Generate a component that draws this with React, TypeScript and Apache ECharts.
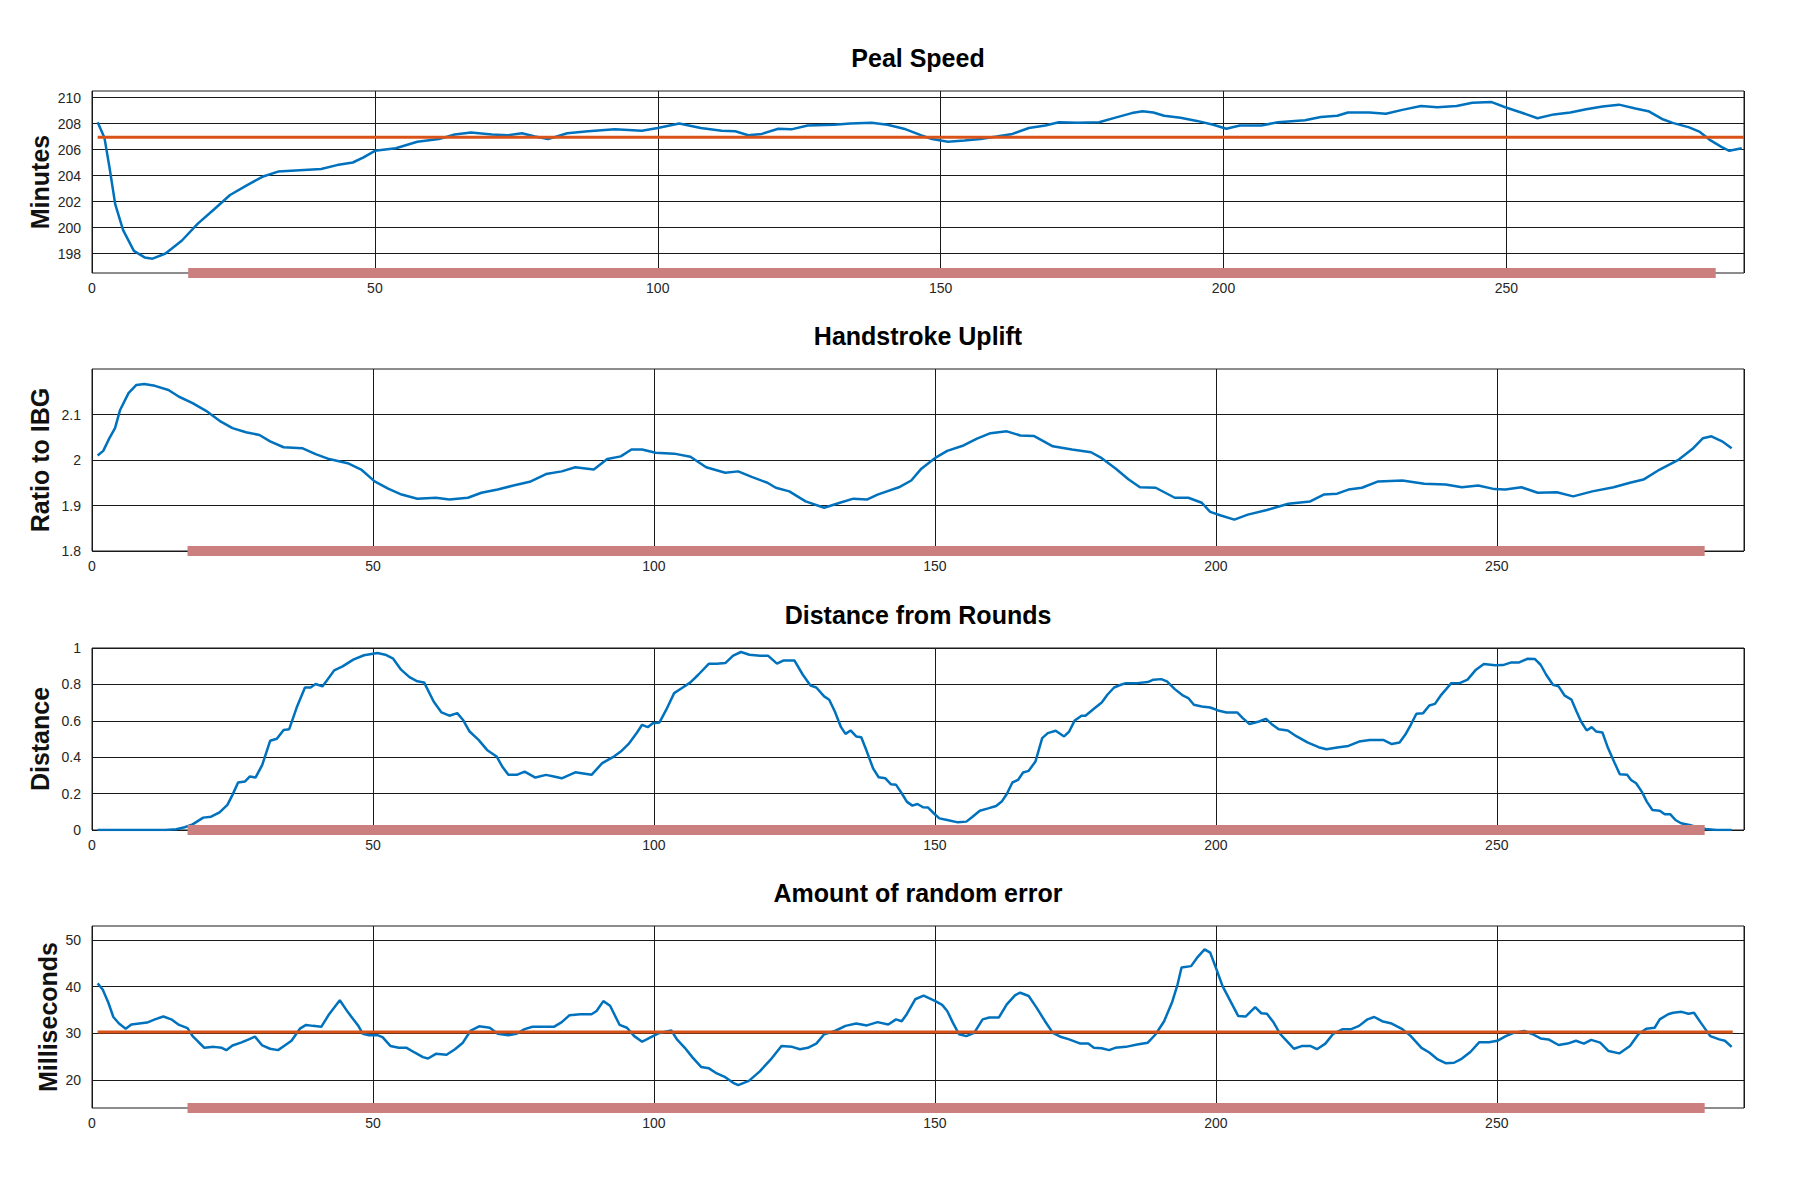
import React, { useEffect, useRef } from "react";
import * as echarts from "echarts";

// ---------- DATA ----------
const titles = ["Peal Speed", "Handstroke Uplift", "Distance from Rounds", "Amount of random error"];
const yNames = ["Minutes", "Ratio to IBG", "Distance", "Milliseconds"];

const xTicks = [0, 50, 100, 150, 200, 250];
const xMaxes = [292, 294, 294, 294];

const yTicksPeal = [198, 200, 202, 204, 206, 208, 210];
const yTicksUplift = [1.8, 1.9, 2, 2.1];
const yTicksDistance = [0, 0.2, 0.4, 0.6, 0.8, 1];
const yTicksError = [20, 30, 40, 50];

const yRangePeal = [196.5, 210.5];
const yRangeUplift = [1.8, 2.2];
const yRangeDistance = [0, 1];
const yRangeError = [14, 53];

const windowSpan = [17, 287];
const meanSpan = [1, 292];
const pealSpeedMean = 206.95;
const randomErrorMean = 30.3;

const pealSpeed: [number, number][] = [
  [1, 208.1], [2.2, 206.9], [3.1, 204.6], [4.1, 201.8], [5.5, 199.8], [7.4, 198.2], [9.3, 197.7], [10.7, 197.6],
  [13, 198.0], [15.9, 199.0], [18.7, 200.3], [21.6, 201.4], [24.4, 202.5], [27.2, 203.2], [30.1, 203.9], [32.9, 204.3],
  [36.7, 204.4], [40.5, 204.5], [43.3, 204.8], [46.1, 205.0], [48, 205.4], [50, 205.9], [53.7, 206.1], [57.5, 206.6],
  [61.3, 206.8], [64.1, 207.15], [67, 207.3], [70.7, 207.15], [73.5, 207.1], [76, 207.25], [78.3, 207.0], [80.6, 206.8],
  [84, 207.25], [87.7, 207.4], [92.4, 207.55], [97.2, 207.45], [100, 207.65], [103.8, 208.0], [107.6, 207.65], [111.3, 207.45],
  [113.7, 207.4], [116, 207.1], [118.4, 207.2], [121.3, 207.6], [123.6, 207.55], [126.5, 207.85], [131.2, 207.9], [134, 208.0],
  [137.8, 208.05], [140.6, 207.9], [143.5, 207.6], [146.5, 207.1], [148.5, 206.8], [151.3, 206.6], [154.2, 206.7], [157, 206.8],
  [159.9, 207.0], [162.7, 207.2], [165.6, 207.65], [168.5, 207.85], [170.9, 208.1], [174.2, 208.05], [178, 208.1], [180.9, 208.45],
  [183.8, 208.8], [185.7, 208.95], [187.6, 208.85], [189.5, 208.6], [192.4, 208.45], [195.3, 208.2], [198.2, 207.9], [200.5, 207.6],
  [202.9, 207.85], [206.7, 207.85], [209.6, 208.1], [214.4, 208.25], [217.2, 208.5], [220.1, 208.6], [222, 208.85], [225.8, 208.85],
  [228.7, 208.75], [231.6, 209.05], [234.9, 209.35], [237.8, 209.25], [241.2, 209.35], [244, 209.6], [247.4, 209.65], [249.8, 209.25],
  [252.6, 208.85], [255.5, 208.4], [258.4, 208.7], [261.3, 208.85], [264.1, 209.1], [267, 209.3], [269.9, 209.45], [272.8, 209.15],
  [275.1, 208.95], [277.5, 208.35], [279.4, 208.05], [282.3, 207.7], [284.2, 207.35], [286.1, 206.7], [288, 206.2], [289.4, 205.9],
  [291.6, 206.1],
];

const handstrokeUplift: [number, number][] = [
  [1, 2.010], [2, 2.020], [3.1, 2.048], [4.1, 2.070], [5, 2.110], [6.5, 2.147], [7.9, 2.165], [9.3, 2.167],
  [11.2, 2.163], [13.6, 2.154], [15.5, 2.139], [17.9, 2.125], [20.3, 2.108], [22.7, 2.086], [25, 2.070], [27.4, 2.061],
  [29.8, 2.055], [31.7, 2.041], [34.1, 2.028], [37.4, 2.026], [39.8, 2.013], [42.2, 2.002], [45.5, 1.993], [47.9, 1.979],
  [50.3, 1.953], [52.7, 1.937], [55.1, 1.924], [57.9, 1.915], [61.2, 1.917], [63.6, 1.913], [66.9, 1.917], [69.3, 1.928],
  [72.2, 1.935], [75, 1.944], [77.9, 1.952], [80.8, 1.969], [83.6, 1.975], [86, 1.984], [89.3, 1.979], [91.7, 2.002],
  [94.1, 2.008], [96, 2.023], [97.9, 2.023], [100.3, 2.016], [103.6, 2.014], [106.5, 2.007], [109.3, 1.984], [112.7, 1.972],
  [115, 1.975], [117.4, 1.963], [120.2, 1.950], [121.7, 1.939], [124.1, 1.931], [127, 1.909], [130.3, 1.895], [133.1, 1.906],
  [135.5, 1.915], [137.9, 1.913], [139.8, 1.924], [143.6, 1.940], [145.8, 1.955], [147.6, 1.981], [150, 2.004], [152.2, 2.020],
  [155.1, 2.032], [157.5, 2.047], [159.9, 2.059], [162.8, 2.063], [165.2, 2.054], [167.6, 2.053], [171, 2.030], [174.4, 2.023],
  [177.8, 2.017], [179.7, 2.004], [182.1, 1.982], [184.5, 1.957], [186.5, 1.940], [189.3, 1.939], [192.7, 1.917], [195.1, 1.917],
  [197.5, 1.906], [199, 1.886], [200.9, 1.878], [203.3, 1.869], [205.7, 1.880], [209.1, 1.890], [212.9, 1.904], [216.8, 1.909],
  [219.2, 1.924], [221.6, 1.926], [223.6, 1.935], [226, 1.939], [228.9, 1.953], [233.2, 1.955], [237.1, 1.948], [240.9, 1.946],
  [243.8, 1.940], [246.7, 1.944], [249.6, 1.936], [251.5, 1.935], [254.4, 1.940], [257.3, 1.928], [260.7, 1.929], [263.6, 1.920],
  [267, 1.931], [270.8, 1.940], [273.7, 1.950], [276.1, 1.957], [279, 1.979], [282.4, 2.001], [284.8, 2.024], [286.7, 2.048],
  [288.2, 2.052], [290.1, 2.041], [291.8, 2.026],
];

const distanceFromRounds: [number, number][] = [
  [1, 0], [5, 0], [9, 0], [13, 0], [15, 0.004], [16.5, 0.015], [17.9, 0.031], [19.8, 0.068], [21.2, 0.073], [22.7, 0.097],
  [24.1, 0.138], [25, 0.193], [26, 0.261], [27.2, 0.266], [28.1, 0.294], [29.1, 0.288], [30.3, 0.358], [31.7, 0.490],
  [32.9, 0.501], [34.1, 0.550], [35.1, 0.554], [36.5, 0.679], [37.9, 0.783], [38.9, 0.783], [39.8, 0.802], [41, 0.789],
  [41.7, 0.817], [43.1, 0.877], [44.6, 0.899], [46.5, 0.936], [48.4, 0.960], [50.8, 0.972], [52.2, 0.963], [53.6, 0.941],
  [55, 0.881], [56.5, 0.840], [57.9, 0.817], [59.1, 0.811], [60.8, 0.706], [62.2, 0.646], [63.6, 0.628], [65, 0.642],
  [66, 0.606], [67.2, 0.541], [68.8, 0.495], [70.3, 0.440], [72, 0.404], [73, 0.349], [74.1, 0.303], [75.6, 0.303],
  [77, 0.321], [78.9, 0.288], [80.8, 0.303], [82.2, 0.294], [83.6, 0.284], [86, 0.317], [88.9, 0.303], [90.8, 0.367],
  [92.7, 0.400], [94.1, 0.431], [95.5, 0.473], [97, 0.536], [97.9, 0.578], [98.9, 0.565], [99.8, 0.587], [101, 0.591],
  [102.2, 0.661], [103.6, 0.752], [105, 0.780], [106.5, 0.811], [107.9, 0.853], [109.8, 0.914], [111.2, 0.914], [112.7, 0.917],
  [114.1, 0.958], [115.5, 0.978], [117, 0.963], [118.9, 0.958], [120.3, 0.958], [121.9, 0.914], [123.1, 0.932], [125, 0.932],
  [126.5, 0.853], [127.9, 0.793], [128.9, 0.783], [130.3, 0.734], [131.2, 0.716], [132.2, 0.651], [133.3, 0.565], [134.1, 0.528],
  [135, 0.547], [136, 0.514], [136.9, 0.510], [137.9, 0.431], [139, 0.339], [140, 0.290], [141.2, 0.284], [142.2, 0.251],
  [143.1, 0.248], [144.1, 0.202], [145, 0.156], [146, 0.134], [146.9, 0.143], [147.9, 0.125], [148.8, 0.123], [149.8, 0.092],
  [150.8, 0.064], [152.2, 0.055], [154.1, 0.042], [155.6, 0.046], [156.6, 0.070], [158, 0.106], [159.5, 0.119], [160.9, 0.132],
  [161.9, 0.156], [162.8, 0.198], [163.8, 0.261], [164.8, 0.275], [165.7, 0.316], [166.7, 0.325], [167.9, 0.376], [169.1, 0.505],
  [170.1, 0.532], [171.5, 0.545], [173, 0.514], [173.9, 0.541], [174.9, 0.602], [176.1, 0.628], [176.8, 0.628], [178.3, 0.666],
  [179.7, 0.701], [180.7, 0.743], [181.9, 0.783], [183.1, 0.798], [184, 0.807], [186, 0.807], [187.9, 0.813], [188.9, 0.826],
  [190.3, 0.829], [191.3, 0.817], [192.7, 0.774], [194.2, 0.738], [195.1, 0.725], [196.1, 0.688], [197.5, 0.679], [199, 0.673],
  [200.4, 0.657], [201.9, 0.646], [203.8, 0.646], [204.8, 0.615], [206, 0.582], [207.7, 0.596], [208.9, 0.611], [209.9, 0.583],
  [211.2, 0.554], [212.8, 0.547], [214.4, 0.514], [216.3, 0.481], [218.3, 0.455], [219.7, 0.444], [221.6, 0.453], [223.6, 0.462],
  [225.5, 0.486], [227.4, 0.495], [229.8, 0.495], [231.3, 0.472], [232.7, 0.481], [233.7, 0.523], [234.7, 0.578], [235.7, 0.639],
  [236.9, 0.642], [238, 0.684], [239, 0.693], [240, 0.738], [241, 0.774], [241.9, 0.807], [243.4, 0.807], [244.8, 0.826],
  [246.3, 0.881], [247.7, 0.912], [249.7, 0.905], [251.1, 0.906], [252.6, 0.921], [254, 0.921], [255.5, 0.941], [256.8, 0.939],
  [257.8, 0.908], [258.8, 0.853], [260, 0.798], [261, 0.789], [262.1, 0.738], [263.3, 0.716], [264.2, 0.651], [265, 0.596],
  [266, 0.547], [266.9, 0.565], [267.7, 0.541], [268.8, 0.536], [269.8, 0.450], [271, 0.367], [271.9, 0.306], [273.2, 0.303],
  [273.9, 0.275], [274.8, 0.257], [275.8, 0.211], [276.7, 0.156], [277.7, 0.110], [279, 0.106], [279.9, 0.086], [280.9, 0.086],
  [281.8, 0.055], [282.8, 0.037], [284.3, 0.028], [285.7, 0.015], [287.2, 0.006], [289.1, 0], [291.8, 0],
];

const randomError: [number, number][] = [
  [1, 40.7], [1.9, 39.4], [2.9, 36.6], [3.8, 33.5], [4.8, 32.1], [6, 31.0], [7, 31.9], [8.4, 32.1], [9.8, 32.3], [11.2, 33.0],
  [12.7, 33.6], [14.1, 33.0], [15.5, 31.8], [17, 31.1], [17.9, 29.4], [18.9, 28.2], [20, 26.9], [21.7, 27.1], [23.1, 26.9],
  [23.9, 26.4], [25, 27.4], [26.5, 28.0], [27.9, 28.7], [29, 29.3], [30.3, 27.4], [31.7, 26.7], [33.1, 26.4], [34.3, 27.4],
  [35.5, 28.4], [37, 31.0], [38.1, 31.8], [39.3, 31.6], [40.8, 31.4], [42.2, 34.1], [44.1, 37.1], [45.5, 34.6], [46.5, 33.0],
  [47.4, 31.6], [48.2, 29.9], [49.3, 29.6], [50.8, 29.6], [51.7, 29.2], [53.1, 27.3], [54.6, 26.9], [56, 26.9], [57.4, 25.9],
  [58.9, 24.9], [59.8, 24.6], [61.2, 25.6], [63.1, 25.4], [64.6, 26.6], [66, 28.0], [67.4, 30.6], [68.9, 31.5], [70.8, 31.2],
  [72.2, 29.9], [74.1, 29.6], [75.5, 29.9], [77, 30.9], [78.4, 31.4], [80.3, 31.4], [82.2, 31.4], [83.6, 32.4], [85, 33.9],
  [86.9, 34.1], [88.9, 34.1], [89.8, 34.8], [91, 36.9], [92.2, 35.9], [93.9, 31.8], [95.2, 31.2], [96.5, 29.4], [97.9, 28.2],
  [99.3, 29.1], [100.8, 30.0], [103.1, 30.6], [104.1, 28.7], [105.5, 26.9], [106.9, 24.8], [108.4, 22.8], [109.8, 22.5],
  [111.2, 21.4], [112.7, 20.6], [114.1, 19.4], [115, 18.9], [116.9, 19.8], [118.8, 21.8], [120.8, 24.4], [122.7, 27.3],
  [124.6, 27.1], [126, 26.6], [127.4, 26.9], [128.9, 27.8], [130.3, 29.8], [132.2, 30.5], [134.1, 31.6], [136, 32.1],
  [137.9, 31.7], [139.8, 32.4], [141.7, 31.9], [143.1, 33.0], [144.1, 32.6], [145, 34.1], [146.5, 37.3], [148, 38.1],
  [150.1, 36.9], [151.3, 36.1], [152.2, 34.8], [153.2, 32.3], [154.3, 29.8], [155.6, 29.4], [157, 30.1], [158.5, 33.0],
  [159.7, 33.4], [161.4, 33.4], [162.8, 36.2], [164.3, 38.2], [165.2, 38.7], [166.7, 38.0], [168.1, 35.5], [169.6, 32.6],
  [171, 30.1], [172.5, 29.2], [173.9, 28.7], [175.9, 27.8], [177.3, 27.8], [178.3, 26.9], [179.7, 26.8], [181, 26.4],
  [182.1, 26.9], [184, 27.1], [186, 27.6], [187.9, 28.0], [189.3, 29.8], [190.8, 32.6], [192.2, 36.6], [193.2, 40.5],
  [193.9, 44.1], [195.6, 44.4], [196.8, 46.4], [198, 48.0], [199, 47.3], [200, 44.1], [201.2, 40.1], [202.6, 36.9],
  [204, 33.7], [205.3, 33.6], [207, 35.6], [208.1, 34.3], [209.1, 34.2], [210.3, 32.3], [211.5, 29.8], [212.9, 28.0],
  [213.9, 26.7], [215.4, 27.3], [216.8, 27.3], [218, 26.6], [219.5, 27.8], [220.9, 29.9], [222.6, 30.9], [224.1, 30.9],
  [225.5, 31.6], [227, 33.0], [228.2, 33.5], [229.6, 32.6], [231.3, 32.1], [233.2, 30.9], [234.7, 29.4], [236.6, 26.9],
  [238, 25.9], [239.5, 24.4], [240.9, 23.6], [242.4, 23.7], [243.8, 24.6], [245.3, 26.0], [246.9, 28.1], [248.6, 28.1],
  [250.1, 28.4], [251.6, 29.4], [253, 30.1], [254.9, 30.5], [256.4, 29.8], [257.8, 28.9], [259.2, 28.7], [261, 27.5],
  [262.6, 27.8], [264.1, 28.4], [265.5, 27.8], [266.8, 28.6], [268.4, 28.0], [269.9, 26.2], [271.8, 25.7], [273.7, 27.3],
  [275.2, 29.8], [276.6, 31.0], [278.1, 31.2], [279, 33.0], [280.5, 34.1], [281.4, 34.4], [282.9, 34.6], [284.1, 34.2],
  [285.1, 34.4], [286.3, 32.3], [288, 29.4], [289.6, 28.7], [290.6, 28.4], [291.8, 27.1],
];

// ---------- LAYOUT / STYLE ----------
const FONT = '"Liberation Sans", Arial, Helvetica, sans-serif';
const AXIS_COLOR = "#262626";
const GRID_LINE = "#1a1a1a";
const BLUE = "#0072BD";
const ORANGE = "#D95319";
const PINK = "#CC7F7F";
const GRID_LEFT = 92;
const GRID_RIGHT = 56;
const GRID_TOPS = [91, 369, 648, 926];
const GRID_H = 182;
const NAME_GAPS = [40, 40, 40, 32];

function buildOption() {
  const seriesData = [pealSpeed, handstrokeUplift, distanceFromRounds, randomError];
  const yTicks = [yTicksPeal, yTicksUplift, yTicksDistance, yTicksError];
  const yRanges = [yRangePeal, yRangeUplift, yRangeDistance, yRangeError];
  const means: (number | null)[] = [pealSpeedMean, null, null, randomErrorMean];

  const grid: any[] = [];
  const xAxis: any[] = [];
  const yAxis: any[] = [];
  const series: any[] = [];
  const graphic: any[] = [];

  for (let i = 0; i < 4; i++) {
    grid.push({
      left: GRID_LEFT,
      right: GRID_RIGHT,
      top: GRID_TOPS[i],
      height: GRID_H,
      show: true,
      borderColor: GRID_LINE,
      borderWidth: 1,
      backgroundColor: "transparent",
      containLabel: false,
      outerBoundsMode: "none",
    });
    xAxis.push({
      type: "value",
      gridIndex: i,
      min: 0,
      max: xMaxes[i],
      interval: 50,
      axisLine: { show: false },
      axisTick: { show: false },
      splitLine: { show: true, lineStyle: { color: GRID_LINE, width: 1, type: "solid" } },
      axisLabel: {
        customValues: xTicks,
        color: AXIS_COLOR,
        fontSize: 14,
        fontFamily: FONT,
        margin: 8,
      },
    });
    yAxis.push({
      type: "value",
      gridIndex: i,
      min: yRanges[i][0],
      max: yRanges[i][1],
      axisLine: { show: false },
      axisTick: { show: false },
      splitLine: { show: false },
      axisLabel: {
        customValues: yTicks[i],
        color: AXIS_COLOR,
        fontSize: 14,
        fontFamily: FONT,
        margin: 11,
      },
      name: yNames[i],
      nameLocation: "middle",
      nameGap: NAME_GAPS[i],
      nameMoveOverlap: false,
      nameTextStyle: { fontSize: 25, fontWeight: "bold", color: "#111", fontFamily: FONT },
    });
    series.push({
      type: "line",
      xAxisIndex: i,
      yAxisIndex: i,
      data: seriesData[i],
      symbol: "none",
      showSymbol: false,
      silent: true,
      z: 3,
      lineStyle: { color: BLUE, width: 2.5 },
      markLine: {
        silent: true,
        z: 1,
        symbol: ["none", "none"],
        label: { show: false },
        animation: false,
        lineStyle: { color: GRID_LINE, width: 1, type: "solid" },
        data: yTicks[i].map((v) => ({ yAxis: v })),
      },
    });
    const m = means[i];
    if (m !== null) {
      series.push({
        type: "line",
        xAxisIndex: i,
        yAxisIndex: i,
        data: meanSpan.map((x) => [x, m]),
        symbol: "none",
        silent: true,
        z: 4,
        lineStyle: { color: ORANGE, width: 3 },
      });
    }
    series.push({
      type: "line",
      xAxisIndex: i,
      yAxisIndex: i,
      data: windowSpan.map((x) => [x, yRanges[i][0]]),
      symbol: "none",
      silent: true,
      clip: false,
      z: 5,
      lineStyle: { color: PINK, width: 10, cap: "butt" },
    });
    graphic.push({
      type: "text",
      x: GRID_LEFT + (1800 - GRID_LEFT - GRID_RIGHT) / 2,
      y: GRID_TOPS[i] - 33,
      silent: true,
      style: {
        text: titles[i],
        fontSize: 25,
        fontWeight: "bold",
        fontFamily: FONT,
        fill: "#000",
        align: "center",
        verticalAlign: "middle",
        textAlign: "center",
        textVerticalAlign: "middle",
      },
    });
  }

  return {
    animation: false,
    backgroundColor: "#ffffff",
    textStyle: { fontFamily: FONT },
    grid,
    xAxis,
    yAxis,
    series,
    graphic,
  };
}

export default function App() {
  const ref = useRef<HTMLDivElement>(null);
  useEffect(() => {
    document.body.style.margin = "0";
    if (!ref.current) return;
    const chart = echarts.init(ref.current, null, { renderer: "svg" });
    chart.setOption(buildOption() as any);
    return () => chart.dispose();
  }, []);
  return <div ref={ref} style={{ width: 1800, height: 1200, background: "#fff" }} />;
}
